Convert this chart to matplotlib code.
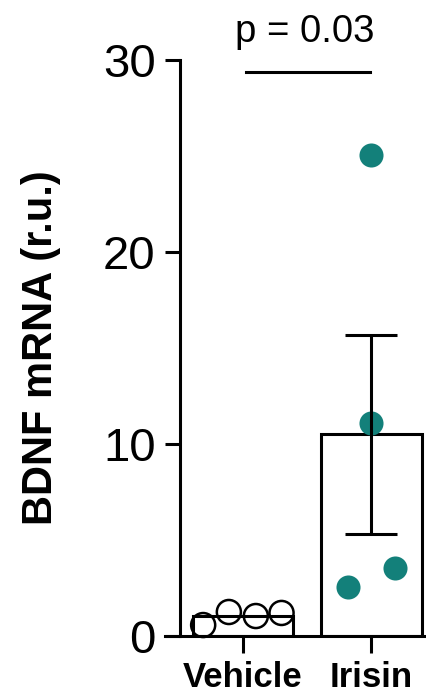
import numpy as np
import matplotlib
matplotlib.use("Agg")
import matplotlib.pyplot as plt

plt.rcParams['font.family'] = ['Liberation Sans', 'DejaVu Sans']

groups = ["Vehicle", "Irisin"]
means = [1.04, 10.5]
sems = [0.0, 5.2]
vehicle_pts = [0.57, 1.25, 1.04, 1.2]
vehicle_off = [-0.31, -0.11, 0.10, 0.30]
irisin_pts = [25.05, 11.1, 2.55, 3.54]
irisin_off = [0.0, 0.0, -0.18, 0.18]
p_text = "p = 0.03"

teal = "#13807a"
lw = 2.2

fig = plt.figure(figsize=(4.27, 6.98), dpi=100)
W, H = 427, 698
ax = fig.add_axes([165 / W, 62 / H, (427 - 165) / W, 576 / H])

x = np.arange(len(groups))
ax.bar(x, means, width=0.78, facecolor="white", edgecolor="black", linewidth=lw, zorder=1)

ax.scatter(x[0] + np.array(vehicle_off), vehicle_pts, s=300, facecolor="none",
           edgecolor="black", linewidth=1.8, zorder=3, clip_on=False)
ax.scatter(x[1] + np.array(irisin_off), irisin_pts, s=300, color=teal,
           linewidth=0, zorder=3, clip_on=False)
ax.errorbar(x[1], means[1], yerr=sems[1], fmt="none", ecolor="black",
            elinewidth=lw, capsize=18.5, capthick=lw, zorder=4)

# significance bar
ax.plot([0.02, 0.99], [29.4, 29.4], color="black", lw=lw, clip_on=False)
ax.text(0.48, 30.95, p_text, ha="center", va="baseline", fontsize=27.5, clip_on=False)

ax.set_xlim(-0.607, 1.432)
ax.set_ylim(0, 30)
ax.set_yticks([0, 10, 20, 30])
ax.set_xticks(x)
ax.set_xticklabels(groups, fontsize=25, fontweight="bold")
ax.tick_params(axis="y", labelsize=34, length=11, width=lw, pad=6.5)
ax.tick_params(axis="x", length=12, width=lw, pad=6)

ax.spines["top"].set_visible(False)
ax.spines["right"].set_visible(False)
ax.spines["left"].set_position(("data", -0.49))
for s in ["left", "bottom"]:
    ax.spines[s].set_linewidth(lw)

ax.set_ylabel("BDNF mRNA (r.u.)", fontsize=30, fontweight="bold", labelpad=30)

fig.savefig("out.png", dpi=100)
